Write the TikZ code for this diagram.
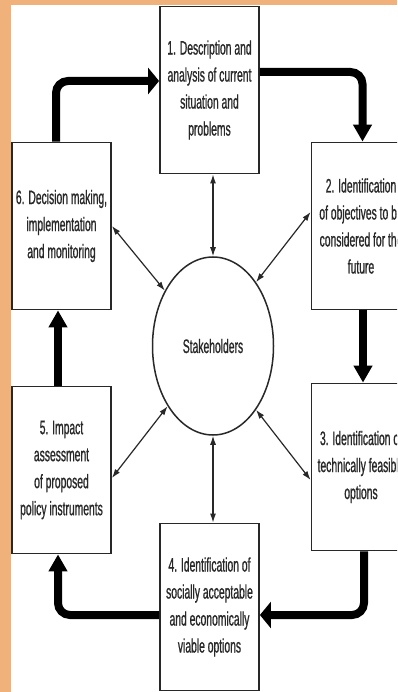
\documentclass[tikz,border=0pt]{standalone}
\usepackage{fontspec}
\newfontfamily\diagfont[FakeStretch=0.53,FakeBold=0.8]{Liberation Sans}
\usetikzlibrary{shapes.geometric,arrows.meta}
\definecolor{bandorange}{RGB}{240,178,122}
\definecolor{inkgray}{RGB}{40,40,40}
\begin{document}
\begin{tikzpicture}[x=1pt,y=-1pt,
  stagebox/.style={draw=inkgray, line width=1.8pt, fill=white, minimum width=99pt, minimum height=167pt, inner sep=0pt, align=center, text=inkgray, font=\diagfont\fontsize{19.5}{27}\selectfont},
  hub/.style={ellipse, draw=inkgray, line width=1.5pt, fill=white, minimum width=121pt, minimum height=178pt, inner sep=0pt, text=inkgray, font=\diagfont\fontsize{19.5}{27}\selectfont},
  flow/.style={line width=8pt, rounded corners=12pt, draw=black},
  vhead/.style={-{Triangle[length=17pt,width=18pt]}},
  hhead/.style={-{Triangle[length=11pt,width=26pt]}},
  link/.style={{Latex[length=9pt,width=6pt]}-{Latex[length=9pt,width=6pt]}, line width=1.2pt, draw=inkgray}
]
\useasboundingbox (0,0) rectangle (397,692);
\fill[bandorange] (0,0) rectangle (397,692);
\fill[white] (11,5) rectangle (397,692);
\clip (11,5) rectangle (397,692);

\node[stagebox] (b1) at (209.5,90) {1. Description and\\analysis of current\\situation and\\problems};
\node[stagebox] (b2) at (361,226) {2. Identification\\of objectives to be\\considered for the\\future};
\node[stagebox] (b3) at (361,467) {3. Identification of\\technically feasible\\options};
\node[stagebox] (b4) at (209.5,607) {4. Identification of\\socially acceptable\\and economically\\viable options};
\node[stagebox] (b5) at (61.5,470) {5. Impact\\assessment\\of proposed\\policy instruments};
\node[stagebox] (b6) at (61.5,226) {6. Decision making,\\implementation\\and monitoring};
\node[hub] (st) at (213,346) {Stakeholders};

% main cycle
\draw[flow,hhead] ([xshift=-5.5pt]b6.north) |- ([yshift=9pt]b1.west);
\draw[flow,vhead] ([yshift=18pt]b1.east) -| ([xshift=1.5pt]b2.north);
\draw[flow,vhead] ([xshift=2pt]b2.south) -- ([xshift=2pt]b3.north);
\draw[flow,hhead] ([xshift=3pt]b3.south) |- ([yshift=-8pt]b4.east);
\draw[flow,vhead] ([yshift=-8pt]b4.west) -| ([xshift=-3.5pt]b5.south);
\draw[flow,vhead] ([xshift=-3.5pt]b5.north) -- ([xshift=-3.5pt]b6.south);

% stakeholder links
\draw[link] (st.north |- b1.south) -- (st.north);
\draw[link] ([yshift=14pt]b2.west) -- (st.56);
\draw[link] ([yshift=-13pt]b3.west) -- (st.-56);
\draw[link] (st.south) -- (st.south |- b4.north);
\draw[link] ([yshift=-8pt]b5.east) -- (st.233);
\draw[link] (b6.east) -- (st.131);
\end{tikzpicture}
\end{document}
